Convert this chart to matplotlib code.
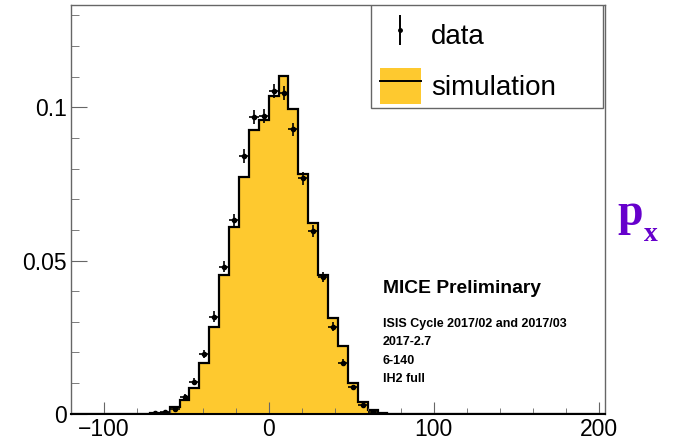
import numpy as np
import matplotlib
matplotlib.use("Agg")
import matplotlib.pyplot as plt
from matplotlib.lines import Line2D
from matplotlib.patches import Patch, Rectangle
from matplotlib.ticker import MultipleLocator

plt.rcParams['font.family'] = ['Liberation Sans', 'DejaVu Sans']

# binning (ROOT-style histogram, 54 bins of 6 from -120 to 204)
bin_lo = -120
bin_width = 6
n_bins = 54

# simulation (normalised), one value per bin
sim_values = [0, 0, 0, 0, 0, 0, 0, 0, 0.0001, 0.0003,
              0.0021, 0.0044, 0.0083, 0.0167, 0.0284, 0.0453, 0.0608, 0.0772, 0.0926, 0.0959,
              0.1038, 0.1102, 0.0993, 0.0781, 0.0621, 0.0453, 0.0311, 0.0221, 0.0099, 0.0038,
              0.0012, 0.0003, 0, 0, 0, 0, 0, 0, 0, 0,
              0, 0, 0, 0, 0, 0, 0, 0, 0, 0,
              0, 0, 0, 0]

# data points: bin index, value, vertical error
data_bins = [8, 9, 10, 11, 12, 13, 14, 15, 16, 17, 18, 19,
             20, 21, 22, 23, 24, 25, 26, 27, 28, 29, 30]
data_values = [0.0002, 0.0005, 0.0017, 0.0055, 0.0104, 0.0195, 0.0317, 0.0480, 0.0632, 0.0841, 0.0967, 0.0972,
               0.1054, 0.1046, 0.0928, 0.0768, 0.0597, 0.0447, 0.0284, 0.0166, 0.0086, 0.0028, 0.0007]
data_errors = [0.0002, 0.0003, 0.0005, 0.0008, 0.0011, 0.0014, 0.0017, 0.0019, 0.0021, 0.0022, 0.0023, 0.0023,
               0.0023, 0.0023, 0.0022, 0.0021, 0.0019, 0.0017, 0.0014, 0.0011, 0.0008, 0.0005, 0.0003]

text_lines = ["ISIS Cycle 2017/02 and 2017/03", "2017-2.7", "6-140", "IH2 full"]

fill_color = '#fec92f'
axis_grey = '#666666'

edges = bin_lo + bin_width * np.arange(n_bins + 1)
centers = edges[:-1] + bin_width / 2

fig = plt.figure(figsize=(6.77, 4.42), dpi=100)
ax = fig.add_axes([0.1044, 0.064, 0.7896, 0.924])

ax.stairs(sim_values, edges, fill=True, color=fill_color, baseline=0)
ax.stairs(sim_values, edges, fill=False, color='black', linewidth=1.6, baseline=0)

ax.errorbar(centers[data_bins], data_values, yerr=data_errors, xerr=bin_width / 2,
            fmt='o', color='black', markersize=3, elinewidth=1.2, capsize=0, zorder=5)

ax.set_xlim(edges[0], edges[-1])
ax.set_ylim(0, 0.1333)

ax.xaxis.set_major_locator(MultipleLocator(100))
ax.xaxis.set_minor_locator(MultipleLocator(20))
ax.yaxis.set_major_locator(MultipleLocator(0.05))
ax.yaxis.set_minor_locator(MultipleLocator(0.01))
ax.yaxis.set_major_formatter(matplotlib.ticker.FuncFormatter(lambda v, p: f"{v:g}"))

ax.tick_params(axis='both', which='both', direction='in', colors=axis_grey,
               labelcolor='black', labelsize=16.5, top=False, right=False)
ax.tick_params(axis='x', which='major', length=8.6, pad=3)
ax.tick_params(axis='x', which='minor', length=4.3)
ax.tick_params(axis='y', which='major', length=11.5, pad=3)
ax.tick_params(axis='y', which='minor', length=5.8)

for side in ['left', 'top', 'right']:
    ax.spines[side].set_color(axis_grey)
    ax.spines[side].set_linewidth(1.0)
ax.spines['bottom'].set_color('black')
ax.spines['bottom'].set_linewidth(1.5)

# legend: box drawn separately so its size matches the ROOT TLegend
leg_box = (0.5617, 0.7485, 0.4343, 0.2515)
ax.add_patch(Rectangle(leg_box[:2], leg_box[2], leg_box[3], transform=ax.transAxes,
                       facecolor='white', edgecolor=axis_grey, linewidth=1.0, zorder=6))
data_handle = (Line2D([], [], color='black', marker='|', markersize=22, linestyle='none', markeredgewidth=1.4),
               Line2D([], [], color='black', marker='o', markersize=2.5, linestyle='none'))
sim_handle = (Patch(facecolor=fill_color, edgecolor='none'), Line2D([], [], color='black', linewidth=1.4))
leg = ax.legend([data_handle, sim_handle], ['data', 'simulation'],
                bbox_to_anchor=(leg_box[0] - 0.0075, leg_box[1], leg_box[2], leg_box[3] + 0.003),
                loc='upper left', mode='expand', fontsize=20, frameon=False,
                borderpad=0.46, labelspacing=0.55, handlelength=1.48, handleheight=1.6,
                handletextpad=0.36, borderaxespad=0)
leg.set_zorder(7)

# labels
ax.text(0.584, 0.295, "MICE Preliminary", transform=ax.transAxes, fontsize=13.9,
        fontweight='bold', va='baseline', ha='left')
for i, line in enumerate(text_lines):
    ax.text(0.584, 0.213 - i * 0.0455, line, transform=ax.transAxes, fontsize=9,
            fontweight='bold', va='baseline', ha='left')

fig.text(617 / 677, 1 - 225 / 442, "p", fontsize=33, fontweight='bold',
         family='Liberation Serif', color='#6600cc', va='baseline', ha='left')
fig.text(644 / 677, 1 - 241.5 / 442, "x", fontsize=20, fontweight='bold',
         family='Liberation Serif', color='#6600cc', va='baseline', ha='left')

fig.savefig('out.png', dpi=100)
